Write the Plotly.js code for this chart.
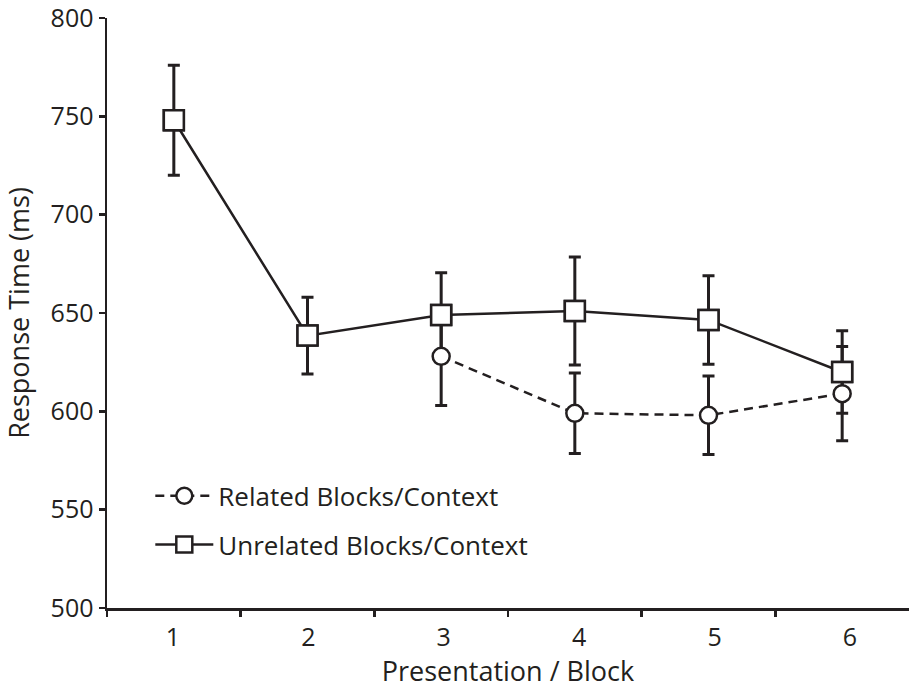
<!DOCTYPE html>
<html>
<head>
<meta charset="utf-8">
<script src="https://cdn.plot.ly/plotly-3.0.1.min.js"></script>
<style>html,body{margin:0;padding:0;background:#fff;}#chart{width:909px;height:690px;}</style>
</head>
<body>
<div id="chart"></div>
<script>
// ---- data ----
const blocks = [1, 2, 3, 4, 5, 6];
const tickLabels = ['1', '2', '3', '4', '5', '6'];
const relatedX = [3, 4, 5, 6];
const relatedRT = [628, 599, 598, 609];
const relatedErr = [25, 20.5, 20, 24];
const unrelatedRT = [748, 638.5, 649, 651, 646.5, 620];
const unrelatedErr = [28, 19.5, 21.5, 27.5, 22.5, 21];
const relatedName = 'Related Blocks/Context';
const unrelatedName = 'Unrelated Blocks/Context';
const xTitle = 'Presentation / Block';
const yTitle = 'Response Time (ms)';
const yTicks = [500, 550, 600, 650, 700, 750, 800];
const xTickMarks = [0.5, 1.5, 2.5, 3.5, 4.5, 5.5];

const ink = '#231f20';
const FONT = 'Open Sans, Noto Sans, sans-serif';

const unrelatedLine = {
  x: blocks, y: unrelatedRT, name: unrelatedName, mode: 'lines+markers',
  legendgroup: 'u',
  line: {color: ink, width: 2.5},
  marker: {symbol: 'square', size: 20, color: '#fff', line: {color: ink, width: 2.5}},
  error_y: {type: 'data', array: unrelatedErr, visible: true, color: ink, thickness: 3, width: 6},
  legendrank: 2, hoverinfo: 'skip'
};
const related = {
  x: relatedX, y: relatedRT, name: relatedName, mode: 'lines+markers',
  legendgroup: 'r',
  line: {color: ink, width: 2.5, dash: '9px,6px'},
  marker: {symbol: 'circle', size: 17, color: '#fff', line: {color: ink, width: 2.5}},
  error_y: {type: 'data', array: relatedErr, visible: true, color: ink, thickness: 3, width: 6},
  legendrank: 1, hoverinfo: 'skip'
};
const unrelatedTop = {
  x: blocks, y: unrelatedRT, mode: 'markers', showlegend: false,
  marker: {symbol: 'square', size: 20, color: '#fff', line: {color: ink, width: 2.5}},
  hoverinfo: 'skip'
};

const layout = {
  width: 909, height: 690,
  margin: {l: 107, r: 0, t: 18, b: 82},
  paper_bgcolor: '#fff', plot_bgcolor: '#fff',
  font: {family: FONT, color: ink, size: 26},
  showlegend: true,
  legend: {
    x: 0.054, y: 0.23, xanchor: 'left', yanchor: 'top',
    bgcolor: 'rgba(0,0,0,0)', font: {size: 26, color: ink},
    itemwidth: 58, traceorder: 'grouped', tracegroupgap: 12
  },
  xaxis: {
    range: [0.5, 6.5], showgrid: false, zeroline: false,
    showline: true, linecolor: ink, linewidth: 2.5,
    tickvals: xTickMarks, ticks: 'outside', ticklen: 6, tickwidth: 2.5, tickcolor: ink,
    showticklabels: false,
    title: {text: xTitle, font: {size: 27, color: ink}, standoff: 47}
  },
  xaxis2: {
    overlaying: 'x', anchor: 'y', side: 'bottom',
    range: [0.513, 6.436], showgrid: false, zeroline: false, showline: false,
    tickvals: blocks, ticktext: tickLabels, ticks: '', ticklabelstandoff: 12,
    tickfont: {size: 25, color: ink}
  },
  yaxis: {
    range: [500, 800], showgrid: false, zeroline: false,
    showline: true, linecolor: ink, linewidth: 2.5,
    tickvals: yTicks, ticks: 'outside', ticklen: 6, tickwidth: 2.5, tickcolor: ink,
    tickfont: {size: 25, color: ink}, ticklabeloverflow: 'allow',
    title: {text: yTitle, font: {size: 27, color: ink}, standoff: 13}
  }
};

// invisible carrier so xaxis2 is drawn
const axisCarrier = {x: blocks, y: unrelatedRT, xaxis: 'x2', mode: 'markers',
  marker: {opacity: 0}, showlegend: false, hoverinfo: 'skip'};

Plotly.newPlot('chart', [unrelatedLine, related, unrelatedTop, axisCarrier], layout, {staticPlot: true});
</script>
</body>
</html>
